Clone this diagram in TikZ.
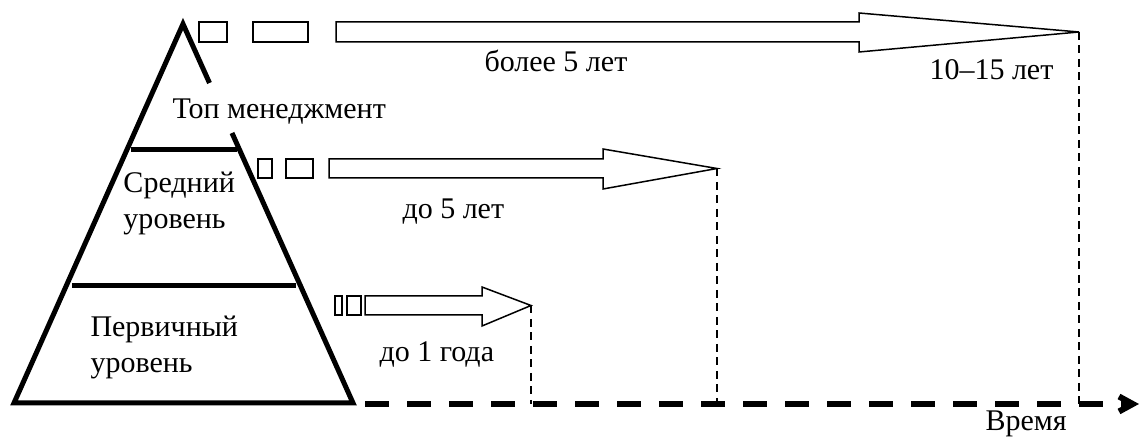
\documentclass[tikz,border=0pt]{standalone}
\usepackage{fontspec}
\setmainfont{Liberation Serif}
\usetikzlibrary{arrows.meta}

\begin{document}
\begin{tikzpicture}[x=0.4pt,y=-0.4pt,
  lbl/.style={anchor=base west,inner sep=0pt,font=\fontsize{12}{14.4}\selectfont,align=left},
  pyramid/.style={line width=2pt,line join=miter},
  blockarr/.style={line width=0.6pt,line join=miter},
  guide/.style={line width=0.7pt,dash pattern=on 3.2pt off 2.2pt},
  timeline/.style={line width=2.4pt,dash pattern=on 9.6pt off 7.2pt}]
\useasboundingbox (0,0) rectangle (1142,438);
% pyramid
\coordinate (apex) at (183,24);
\coordinate (baseL) at (14,403);
\coordinate (baseR) at (353,403);
\coordinate (gapA) at (209.5,83);
\coordinate (gapB) at (232,133);
\draw[pyramid] (gapA) -- (apex) -- (baseL) -- (baseR) -- (gapB);
\draw[pyramid] (131,150) -- (237,150);
\draw[pyramid] (72,286) -- (296,286);
\node[lbl] (top) at (172,119) {Топ менеджмент};
\node[lbl] (mid) at (123,229) {Средний\\уровень};
\node[lbl] (low) at (90,373) {Первичный\\уровень};
% arrows
\coordinate (tipTop) at (1079,32);
\coordinate (tipMid) at (717,168.5);
\coordinate (tipLow) at (531,305.5);
\draw[blockarr] (199,22) rectangle (227,42);
\draw[blockarr] (253,22) rectangle (308,42);
\draw[blockarr] (336,22) -- (859,22) -- (859,13) -- (tipTop) -- (859,52) -- (859,42) -- (336,42) -- cycle;
\draw[blockarr] (258,159) rectangle (272,178);
\draw[blockarr] (286,159) rectangle (313,178);
\draw[blockarr] (329,159) -- (603,159) -- (603,149) -- (tipMid) -- (603,189) -- (603,178) -- (329,178) -- cycle;
\draw[blockarr] (335,296) rectangle (342,315);
\draw[blockarr] (347,296) rectangle (361,315);
\draw[blockarr] (365,296) -- (482,296) -- (482,287) -- (tipLow) -- (482,326) -- (482,315) -- (365,315) -- cycle;
\node[lbl] (t5plus) at (484,72) {более 5 лет};
\node[lbl] (t15) at (929,80) {10–15 лет};
\node[lbl] (t5) at (402,219) {до 5 лет};
\node[lbl] (t1) at (379,362) {до 1 года};
% time axis
\coordinate (tStart) at (365,404);
\coordinate (tEnd) at (1139,404);
\draw[timeline,-{Straight Barb[length=5.5pt,width=6pt]}] (tStart) -- (tEnd);
\draw[guide] (tipTop) -- (tipTop |- tStart);
\draw[guide] (tipMid) -- (tipMid |- tStart);
\draw[guide] (tipLow) -- (tipLow |- tStart);
\node[lbl] (time) at (985,431) {Время};
\end{tikzpicture}
\end{document}
